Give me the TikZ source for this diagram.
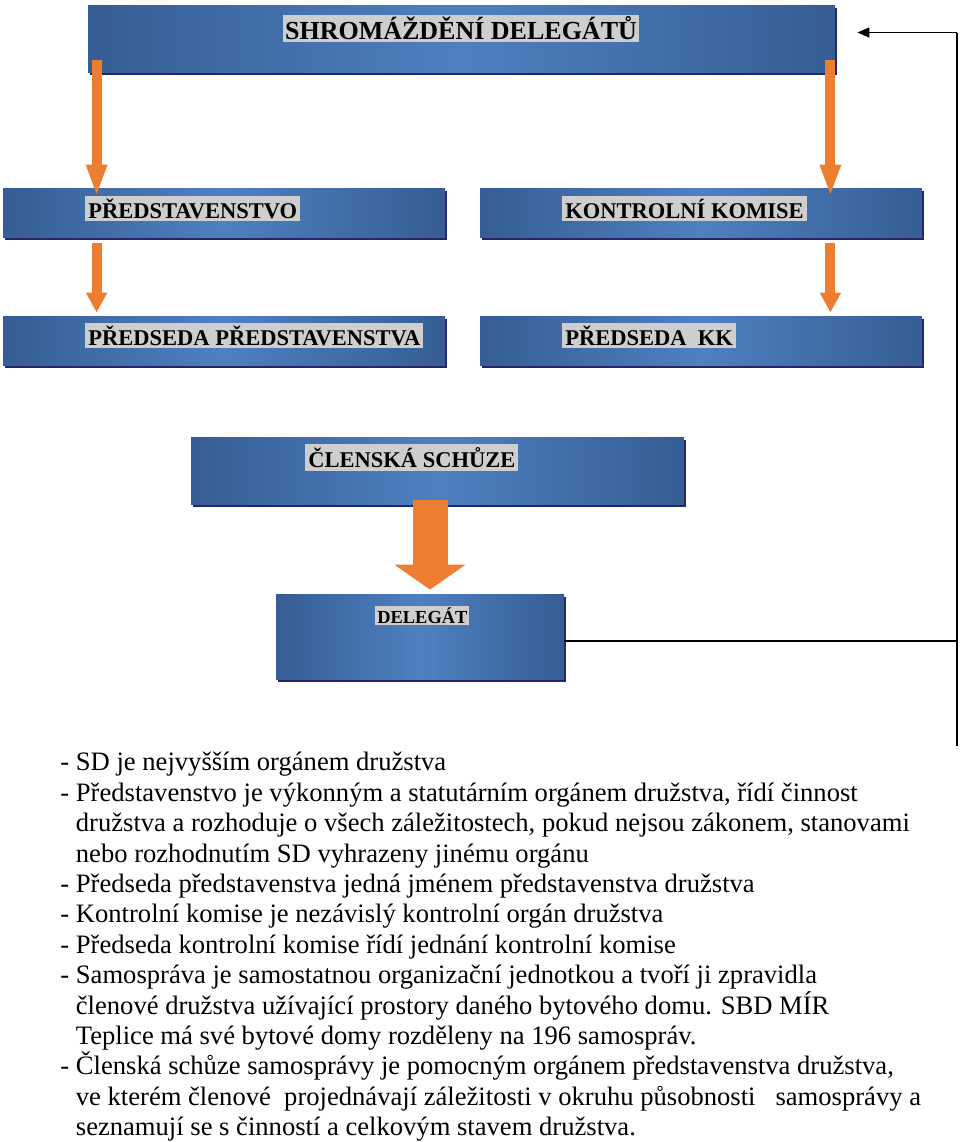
\documentclass[tikz,border=0pt]{standalone}
\usepackage{fontspec}
\setmainfont{Liberation Serif}
\usetikzlibrary{arrows.meta,shadows,calc}

\definecolor{boxlight}{RGB}{78,128,192}
\definecolor{boxdark}{RGB}{54,93,148}
\definecolor{arroworange}{RGB}{237,125,49}
\definecolor{taggrey}{RGB}{206,206,206}

\begin{document}
\begin{tikzpicture}[x=0.5pt,y=-0.5pt]
        \tikzstyle{orgbox}=[rectangle, inner sep=0pt, left color=boxdark, right color=boxdark, middle color=boxlight, drop shadow={shadow xshift=1.2pt, shadow yshift=-1.5pt, fill=black!70!blue, opacity=0.85}]
        \tikzstyle{tag}=[fill=taggrey, inner sep=1.5pt, anchor=west, font=\bfseries\fontsize{11.25}{13}\selectfont]
        \tikzstyle{feed}=[line width=5pt, draw=arroworange, -{Triangle[length=16pt,width=9.5pt]}]
        \tikzstyle{feedshort}=[line width=5pt, draw=arroworange, -{Triangle[length=10pt,width=10pt]}]
        \tikzstyle{bigfeed}=[line width=17.5pt, draw=arroworange, -{Triangle[length=12.5pt,width=35pt]}]
        \tikzstyle{backlink}=[line width=0.7pt, draw=black]
        \tikzstyle{notes}=[align=left, inner sep=0pt, anchor=north west, font=\fontsize{13.3}{15.2}\selectfont]
        \useasboundingbox (0,0) rectangle (960,1142);
        % boxes
        \node[orgbox, minimum width=373.5pt, minimum height=33.5pt] (sd) at (461.5,38.5) {};
        \node[orgbox, minimum width=221pt, minimum height=24.5pt] (pred) at (224,212.5) {};
        \node[orgbox, minimum width=221pt, minimum height=24.5pt] (kk) at (701,212.5) {};
        \node[orgbox, minimum width=221pt, minimum height=24.5pt] (ppred) at (224,340.5) {};
        \node[orgbox, minimum width=221pt, minimum height=24.5pt] (pkk) at (701,340.5) {};
        \node[orgbox, minimum width=246.5pt, minimum height=33.5pt] (cs) at (437.5,470.5) {};
        \node[orgbox, minimum width=144pt, minimum height=42.5pt] (del) at (420,636.5) {};
        % labels
        \node[tag, anchor=center, inner sep=1pt, font=\bfseries\fontsize{13}{15}\selectfont] (sdt) at (461,28.5) {SHROMÁŽDĚNÍ DELEGÁTŮ};
        \node[tag] (predt) at (85,208.5) {PŘEDSTAVENSTVO};
        \node[tag] (kkt) at (562,208.5) {KONTROLNÍ KOMISE};
        \node[tag] (ppredt) at (85,335.5) {PŘEDSEDA PŘEDSTAVENSTVA};
        \node[tag] (pkkt) at (562,335.5) {PŘEDSEDA\ \ KK};
        \node[tag] (cst) at (305,457.5) {ČLENSKÁ SCHŮZE};
        \node[tag, inner sep=1pt, font=\bfseries\fontsize{9.2}{11}\selectfont] (delt) at (375,615.5) {DELEGÁT};
        % arrows
        \draw[feed] ($(sd.south west)+(9,-12)$) -- ($(sd.south west |- pred.north)+(9,9)$);
        \draw[feed] ($(sd.south east)+(-5,-12)$) -- ($(sd.south east |- kk.north)+(-5,9)$);
        \draw[feedshort] ($(sd.south west |- pred.south)+(9,6)$) -- ($(sd.south west |- ppred.north)+(9,-3)$);
        \draw[feedshort] ($(sd.south east |- kk.south)+(-5,6)$) -- ($(sd.south east |- pkk.north)+(-5,-3)$);
        \draw[bigfeed] ($(cs.south)+(-7.5,-4)$) -- ($(cs.south |- del.north)+(-7.5,-4)$);
        % return line
        \coordinate (railbot) at (957,746);
        \coordinate (sdin) at ($(sd.east)+(22,-6)$);
        \coordinate (delout) at ($(del.east)+(0,4.5)$);
        \draw[backlink] (railbot) -- (railbot |- sdin) coordinate (railtop);
        \draw[backlink, -{Triangle[length=6pt,width=5pt]}] (railtop) -- (sdin);
        \draw[backlink] (delout) -- (delout -| railbot);
        % text
        \node[notes] (notes) at (60,752) {- SD je nejvyšším orgánem družstva\\
- Představenstvo je výkonným a statutárním orgánem družstva, řídí činnost\\
\phantom{- }družstva a rozhoduje o všech záležitostech, pokud nejsou zákonem, stanovami\\
\phantom{- }nebo rozhodnutím SD vyhrazeny jinému orgánu\\
- Předseda představenstva jedná jménem představenstva družstva\\
- Kontrolní komise je nezávislý kontrolní orgán družstva\\
- Předseda kontrolní komise řídí jednání kontrolní komise\\
- Samospráva je samostatnou organizační jednotkou a tvoří ji zpravidla\\
\phantom{- }členové družstva užívající prostory daného bytového domu. SBD MÍR\\
\phantom{- }Teplice má své bytové domy rozděleny na 196 samospráv.\\
- Členská schůze samosprávy je pomocným orgánem představenstva družstva,\\
\phantom{- }ve kterém členové\ \ projednávají záležitosti v okruhu působnosti\ \ \ samosprávy a\\
\phantom{- }seznamují se s činností a celkovým stavem družstva.};
    \end{tikzpicture}
\end{document}
